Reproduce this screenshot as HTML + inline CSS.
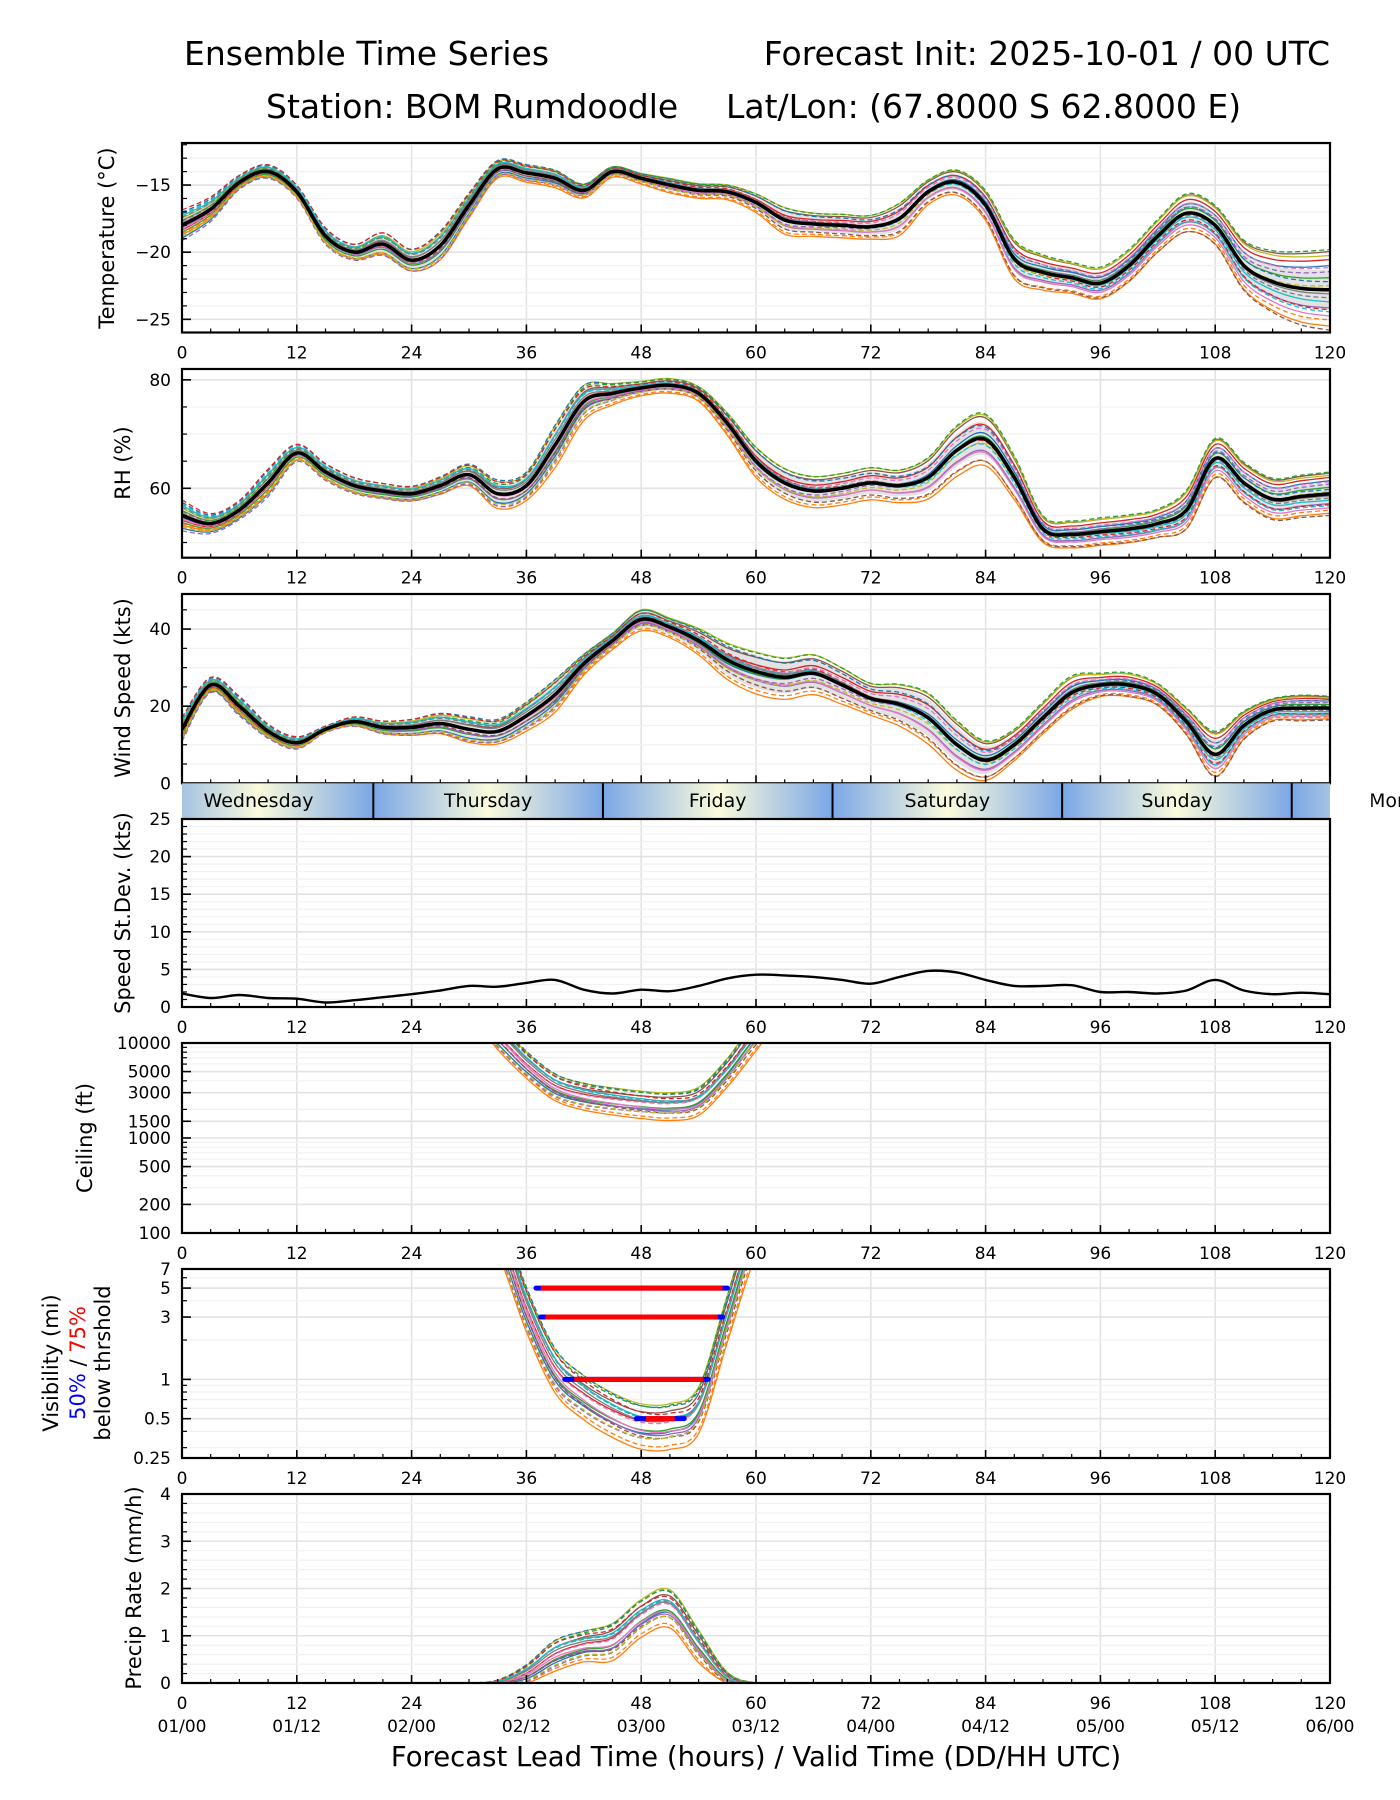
<!DOCTYPE html>
<html><head><meta charset="utf-8">
<style>
html,body{margin:0;padding:0;background:#fff;}
svg{display:block;font-family:"DejaVu Sans","Liberation Sans",sans-serif;}
</style></head>
<body>
<svg id="chart" width="1400" height="1800" viewBox="0 0 1400 1800" xmlns="http://www.w3.org/2000/svg">
<defs>
<linearGradient id="dayg" gradientUnits="userSpaceOnUse" x1="0" y1="0" x2="229.6" y2="0" spreadMethod="repeat">
<stop offset="0" stop-color="#7ba7e6"/><stop offset="0.5" stop-color="#fbfbdc"/><stop offset="1" stop-color="#7ba7e6"/>
</linearGradient>
</defs>
<text x="184" y="65" font-size="33">Ensemble Time Series</text>
<text x="1330" y="65" font-size="33" text-anchor="end">Forecast Init: 2025-10-01 / 00 UTC</text>
<text x="266" y="118" font-size="33">Station: BOM Rumdoodle</text>
<text x="726" y="118" font-size="33">Lat/Lon: (67.8000 S 62.8000 E)</text>
<text x="756" y="1766" font-size="27.5" text-anchor="middle">Forecast Lead Time (hours) / Valid Time (DD/HH UTC)</text>
<g id="plots"></g>
</svg>
<script>
// ---- data (3-hourly, 0..120 h) ----
const hours = [0,3,6,9,12,15,18,21,24,27,30,33,36,39,42,45,48,51,54,57,60,63,66,69,72,75,78,81,84,87,90,93,96,99,102,105,108,111,114,117,120];
const tempMean = [-18,-16.8,-14.8,-14.0,-15.5,-18.8,-20.0,-19.4,-20.6,-19.5,-16.5,-13.8,-14.1,-14.5,-15.4,-14.0,-14.5,-15.0,-15.4,-15.5,-16.3,-17.6,-17.9,-18.0,-18.1,-17.5,-15.5,-14.8,-16.5,-20.5,-21.5,-21.9,-22.3,-21.0,-18.8,-17.1,-18.0,-21.0,-22.2,-22.7,-22.8];
const tempSpread = [0.6,0.5,0.3,0.3,0.3,0.4,0.4,0.6,0.6,0.8,0.7,0.5,0.5,0.5,0.4,0.3,0.3,0.4,0.4,0.4,0.5,0.7,0.6,0.6,0.6,0.8,0.6,0.6,0.7,0.9,0.8,0.7,0.7,0.7,0.7,0.8,0.8,1.0,1.2,1.4,1.5];
const rhMean = [55,53.5,56,61,66.5,63,60.5,59.5,59,60.5,62.5,59,60.5,68,76,77.5,78.5,79,77.5,72,65,61,59.5,60,61,60.5,62,67,69,62,52.5,51.5,52,52.5,53.5,56,65.5,61,58,58.5,59];
const rhSpread = [1.5,1,1,1.5,1,1,1,1,1,1.2,1.5,2,2,3,2.5,1.5,1,1,1,1.5,2,2,2,2,2,2,2.5,3,3,2.5,1.5,1.5,1.5,1.5,1.5,2,2,2,2,2,2];
const windMean = [14,25.5,20,13.5,10.5,14,16,14.5,14.5,15.5,14,13.5,17.5,23,31,37,42.5,40.5,37,32,29,27.5,28.5,25.5,22,20.5,17,10,6,10,17,23.5,25.5,25.5,23,16,7.5,15,19,19.5,19.5];
const windSd = [1.8,1.2,1.6,1.2,1.1,0.6,0.9,1.3,1.7,2.2,2.8,2.7,3.2,3.6,2.3,1.8,2.3,2.1,2.8,3.8,4.3,4.2,4.0,3.6,3.1,4.0,4.8,4.6,3.6,2.8,2.8,2.9,2.0,2.0,1.8,2.2,3.6,2.2,1.7,1.9,1.7];
const ceilMean = [20000,20000,20000,20000,20000,20000,20000,20000,20000,20000,20000,12000,6000,3500,2800,2500,2300,2200,2500,5000,12000,20000,20000,20000,20000,20000,20000,20000,20000,20000,20000,20000,20000,20000,20000,20000,20000,20000,20000,20000,20000];
const visMean = [20,20,20,20,20,20,20,20,20,20,20,14,3.5,1.2,0.75,0.55,0.45,0.45,0.6,3,14,20,20,20,20,20,20,20,20,20,20,20,20,20,20,20,20,20,20,20,20];
const precipMean = [0,0,0,0,0,0,0,0,0,0,0,0,0.2,0.6,0.8,0.9,1.4,1.6,0.8,0.1,0,0,0,0,0,0,0,0,0,0,0,0,0,0,0,0,0,0,0,0,0];
const precipSpread = [0,0,0,0,0,0,0,0,0,0,0,0.05,0.15,0.25,0.25,0.3,0.3,0.3,0.25,0.1,0,0,0,0,0,0,0,0,0,0,0,0,0,0,0,0,0,0,0,0,0];
// member coefficients (start / end of forecast)
const memberK1 = [-1.6,-1.2,-0.9,-0.6,-0.3,0,0.3,0.6,0.9,1.2,1.6,-1.0,0.5,1.9,-1.9,0.2,-0.5,1.0,-1.4,1.4];
const memberK2 = [1.2,-1.8,0.6,1.5,-0.9,1.9,-1.3,-0.2,1.7,-0.6,0.4,-1.5,2.0,-1.0,0.9,-2.0,1.1,-0.4,0.2,-1.1];
// visibility threshold bars
const visThresh = [5,3,1,0.5];
const visStart50 = [37,37.5,40,47.5];
const visEnd50 = [57,56.5,55,52.5];
const visStart75 = [37.5,38,41,48.5];
const visEnd75 = [56.5,56,54.5,51.5];
const dayNames = ["Wednesday","Thursday","Friday","Saturday","Sunday","Monday"];
const dayCenters = [8,32,56,80,104,128];
const dayBounds = [20,44,68,92,116];
const validLabels = ["01/00","01/12","02/00","02/12","03/00","03/12","04/00","04/12","05/00","05/12","06/00"];
const xTicks = [0,12,24,36,48,60,72,84,96,108,120];

const COLORS = ["#1f77b4","#ff7f0e","#2ca02c","#d62728","#9467bd","#8c564b","#e377c2","#7f7f7f","#bcbd22","#17becf"];
const NS = "http://www.w3.org/2000/svg";
const L = 182, R = 1330;
const xS = h => L + h*(R-L)/120;
const root = document.getElementById('plots');
function mk(tag, attrs, parent){
  const e = document.createElementNS(NS, tag);
  for (const k in attrs) e.setAttribute(k, attrs[k]);
  (parent||root).appendChild(e); return e;
}
const panels = {};
function panel(key, top, bot, ymin, ymax, log){
  const yS = v => {
    if (log) return bot - (Math.log(v)-Math.log(ymin))/(Math.log(ymax)-Math.log(ymin))*(bot-top);
    return bot - (v-ymin)/(ymax-ymin)*(bot-top);
  };
  const g = mk('g', {});
  
  
  const cid = 'clip-'+key;
  const cp = mk('clipPath', {id: cid}, g);
  mk('rect', {x:L, y:top, width:R-L, height:bot-top}, cp);
  const grid = mk('g', {}, g);
  const data = mk('g', {'clip-path':'url(#'+cid+')'}, g);
  const axes = mk('g', {}, g);
  panels[key] = {top, bot, yS, g, grid, data, axes};
  for (let h=0; h<=120; h+=3){
    const x = xS(h);
    if (h%12===0){
      mk('line',{x1:x,x2:x,y1:top,y2:bot,stroke:'#e3e3e3','stroke-width':1.6},grid);
      mk('line',{x1:x,x2:x,y1:bot,y2:bot-8,stroke:'#000','stroke-width':1.6},axes);
    } else {
      mk('line',{x1:x,x2:x,y1:bot,y2:bot-4,stroke:'#000','stroke-width':1.2},axes);
    }
  }
  for (let i=0;i<xTicks.length;i++){
    const t = mk('text',{x:xS(xTicks[i]), y:bot+26, 'font-size':17, 'text-anchor':'middle'}, g);
    t.textContent = xTicks[i];
    
    
  }
  return panels[key];
}
function yTicks(p, majors, minors, labels){
  minors.forEach(v=>{
    const y=p.yS(v);
    mk('line',{x1:L,x2:R,y1:y,y2:y,stroke:'#f2f2f2','stroke-width':1.2},p.grid);
    mk('line',{x1:L,x2:L+5,y1:y,y2:y,stroke:'#000','stroke-width':1.2},p.axes);
  });
  majors.forEach((v,i)=>{
    const y=p.yS(v);
    mk('line',{x1:L,x2:R,y1:y,y2:y,stroke:'#e3e3e3','stroke-width':1.6},p.grid);
    mk('line',{x1:L,x2:L+9,y1:y,y2:y,stroke:'#000','stroke-width':1.6},p.axes);
    const t = mk('text',{x:L-11, y:y+6, 'font-size':17, 'text-anchor':'end'}, p.g);
    t.textContent = labels[i];
    
    
  });
}
function frame(p){
  mk('rect',{x:L,y:p.top,width:R-L,height:p.bot-p.top,fill:'none',stroke:'#000','stroke-width':2.2},p.axes);
}
function ylabel(lines, x, yc, p){
  const t = mk('text',{transform:`translate(${x},${yc}) rotate(-90)`, 'font-size':21, 'text-anchor':'middle'}, p.g);
  t.textContent = lines;
  
  
  return t;
}
// smooth (Catmull-Rom) path through points
function smooth(pts){
  let d = 'M'+pts[0][0].toFixed(1)+','+pts[0][1].toFixed(1);
  for (let i=0;i<pts.length-1;i++){
    const p0=pts[Math.max(0,i-1)], p1=pts[i], p2=pts[i+1], p3=pts[Math.min(pts.length-1,i+2)];
    const c1x=p1[0]+(p2[0]-p0[0])/6, c1y=p1[1]+(p2[1]-p0[1])/6;
    const c2x=p2[0]-(p3[0]-p1[0])/6, c2y=p2[1]-(p3[1]-p1[1])/6;
    d += 'C'+c1x.toFixed(1)+','+c1y.toFixed(1)+' '+c2x.toFixed(1)+','+c2y.toFixed(1)+' '+p2[0].toFixed(1)+','+p2[1].toFixed(1);
  }
  return d;
}
function pathFrom(vals, yS){
  return smooth(vals.map((v,i)=>[xS(hours[i]), yS(v)]));
}
function members(p, mean, spread, mode){
  memberK1.forEach((k1,m)=>{
    const k2 = memberK2[m];
    const vals = mean.map((v,i)=>{
      const k = k1 + (k2-k1)*hours[i]/120;
      if (mode==='log') return v*Math.exp(k*spread[i]);
      const r = v + k*spread[i];
      return mode==='pos' ? Math.max(0,r) : r;
    });
    const path = mk('path',{d:pathFrom(vals,p.yS), fill:'none', stroke:COLORS[m%10], 'stroke-width':1.3, 'stroke-dasharray': m>=10 ? '5,3' : 'none'}, p.data);
    
    
  });
}
function band(p, mean, spread){
  const up = mean.map((v,i)=>[xS(hours[i]), p.yS(v+spread[i])]);
  const dn = mean.map((v,i)=>[xS(hours[i]), p.yS(v-spread[i])]).reverse();
  const d = smooth(up) + smooth(dn).replace(/^M/,'L') + 'Z';
  const b = mk('path',{d:d, fill:'#d0d0d0', 'fill-opacity':0.6}, p.data);
  
  
}
function meanLine(p, mean, w){
  const m = mk('path',{d:pathFrom(mean,p.yS), fill:'none', stroke:'#000', 'stroke-width':w||3.5, 'stroke-linejoin':'round'}, p.data);
  
  
}

// Temperature
let p = panel('temperature', 143, 332.5, -25.98, -11.87, false);
yTicks(p, [-25,-20,-15], [-24,-23,-22,-21,-19,-18,-17,-16,-14,-13,-12], ['\u221225','\u221220','\u221215']);
band(p, tempMean, tempSpread); members(p, tempMean, tempSpread, 'lin'); meanLine(p, tempMean); frame(p);
ylabel('Temperature (\u00B0C)', 114, 238, p);

// RH
p = panel('rh', 369, 557.7, 47.2, 82.0, false);
yTicks(p, [60,80], [50,55,65,70,75], ['60','80']);
band(p, rhMean, rhSpread); members(p, rhMean, rhSpread, 'lin'); meanLine(p, rhMean); frame(p);
ylabel('RH (%)', 130, 463, p);

// Wind
p = panel('wind', 594, 783.3, 0, 49.1, false);
yTicks(p, [0,20,40], [5,10,15,25,30,35,45], ['0','20','40']);
band(p, windMean, windSd); members(p, windMean, windSd.map(v=>v*0.9), 'pos'); meanLine(p, windMean); frame(p);
ylabel('Wind Speed (kts)', 130, 688, p);
p.g.querySelectorAll('text').forEach(t=>{ if (t.getAttribute('y')>800) t.remove(); });

// Day band
const bandG = mk('g',{});


mk('rect',{x:L,y:783.3,width:R-L,height:35.7,fill:'url(#dayg)'},bandG);
document.getElementById('dayg').setAttribute('gradientTransform','translate('+(xS(-4))+',0)');
dayBounds.forEach(h=>mk('line',{x1:xS(h),x2:xS(h),y1:783.3,y2:819,stroke:'#000','stroke-width':2},bandG));
dayNames.forEach((n,i)=>{
  const t = mk('text',{x:xS(dayCenters[i]), y:807, 'font-size':19, 'text-anchor':'middle'}, bandG);
  t.textContent = n;
  
  
});
mk('rect',{x:R+1.2,y:783,width:40,height:37,fill:'#fff'},bandG);

// Speed StDev
p = panel('stdev', 819, 1007, 0, 25, false);
const sdMin=[]; for(let v=1; v<25; v++) if(v%5) sdMin.push(v);
yTicks(p, [0,5,10,15,20,25], sdMin, ['0','5','10','15','20','25']);
meanLine(p, windSd, 2.4); frame(p);
ylabel('Speed St.Dev. (kts)', 130, 913, p);

// Ceiling
p = panel('ceiling', 1043, 1233, 100, 10000, true);
yTicks(p, [100,200,500,1000,1500,3000,5000,10000], [300,400,600,700,800,900,2000,4000,6000,7000,8000,9000], ['100','200','500','1000','1500','3000','5000','10000']);
members(p, ceilMean, ceilMean.map((v,i)=>v<15000?0.25:0), 'log'); frame(p);
ylabel('Ceiling (ft)', 92, 1138, p);

// Visibility
p = panel('visibility', 1269, 1458, 0.25, 7, true);
yTicks(p, [0.25,0.5,1,3,5,7], [0.3,0.4,0.6,0.7,0.8,0.9,2,4,6], ['0.25','0.5','1','3','5','7']);
members(p, visMean, visMean.map(v=>v<15?0.3:0), 'log');
visThresh.forEach((v,i)=>{
  const y = p.yS(v);
  const b = mk('line',{x1:xS(visStart50[i]),x2:xS(visEnd50[i]),y1:y,y2:y,stroke:'#0000ff','stroke-width':5,'stroke-linecap':'round'},p.data);
  
  
  const r = mk('line',{x1:xS(visStart75[i]),x2:xS(visEnd75[i]),y1:y,y2:y,stroke:'#ff0000','stroke-width':5},p.data);
  
  
});
frame(p);
const vt = mk('text',{transform:'translate(58,1363) rotate(-90)','font-size':21,'text-anchor':'middle'},p.g);
vt.textContent='Visibility (mi)';
 
const vt2 = mk('text',{transform:'translate(85,1363) rotate(-90)','font-size':21,'text-anchor':'middle'},p.g);
const s1 = mk('tspan',{fill:'#0000ff'},vt2); s1.textContent='50%';
const s2 = mk('tspan',{},vt2); s2.textContent=' / ';
const s3 = mk('tspan',{fill:'#ff0000'},vt2); s3.textContent='75%';
 
const vt3 = mk('text',{transform:'translate(110,1363) rotate(-90)','font-size':21,'text-anchor':'middle'},p.g);
vt3.textContent='below thrshold';
 

// Precip
p = panel('precip', 1494, 1683, 0, 4, false);
yTicks(p, [0,1,2,3,4], [0.2,0.4,0.6,0.8,1.2,1.4,1.6,1.8,2.2,2.4,2.6,2.8,3.2,3.4,3.6,3.8], ['0','1','2','3','4']);
members(p, precipMean, precipSpread, 'pos'); frame(p);
ylabel('Precip Rate (mm/h)', 141, 1588, p);
validLabels.forEach((s,i)=>{
  const t = mk('text',{x:xS(xTicks[i]), y:1732, 'font-size':17, 'text-anchor':'middle'});
  t.textContent = s;
  
  
});
</script>
</body></html>
